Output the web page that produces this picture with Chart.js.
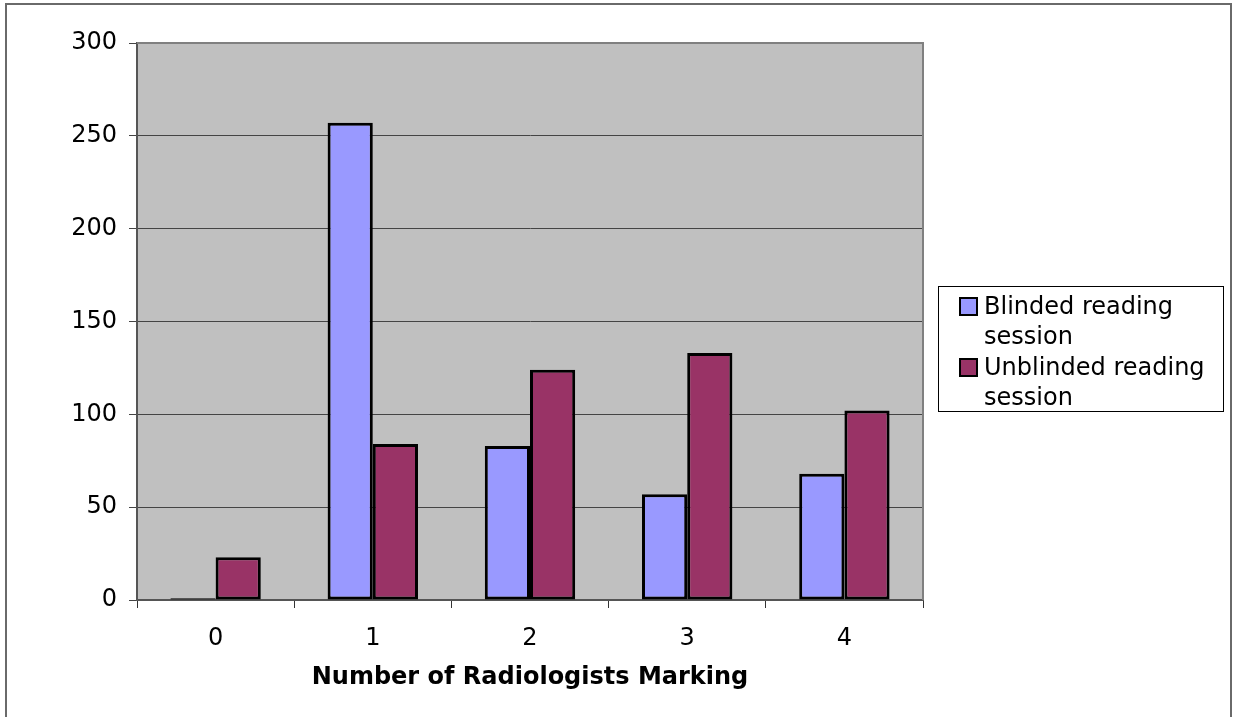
<!DOCTYPE html>
<html>
<head>
<meta charset="utf-8">
<script src="https://cdn.jsdelivr.net/npm/chart.js@4.4.1/dist/chart.umd.min.js"></script>
<style>
  html, body { margin: 0; padding: 0; background: #fff; }
  #wrap { position: relative; width: 1241px; height: 717px; overflow: hidden; }
  #frame { position: absolute; left: 5px; top: 3px; width: 1227px; height: 730px;
           border: 2px solid #6a6a6a; box-sizing: border-box; pointer-events: none; }
  #legend { position: absolute; left: 938px; top: 286px; width: 286px; height: 126px;
            border: 1px solid #000; box-sizing: border-box; background: #fff;
            font-family: "DejaVu Sans", Verdana, sans-serif; font-size: 24px; color: #000; }
  .item { position: absolute; left: 20px; width: 262px; line-height: 30px; padding-left: 25px; }
  .sw { position: absolute; left: 0; top: 6px; width: 19px; height: 19px; border: 2px solid #000; box-sizing: border-box; }
</style>
</head>
<body>
<div id="wrap">
  <canvas id="myChart" width="1241" height="717"></canvas>
  <div id="frame"></div>
  <div id="legend"></div>
</div>
<script>
const labels = ['0', '1', '2', '3', '4']
const blinded = [1, 257, 83, 57, 68]
const unblinded = [23, 84, 124, 133, 102]
const seriesNames = [['Blinded reading', 'session'], ['Unblinded reading', 'session']]
const colors = ['#9999FF', '#993366']
const yTicks = [0, 50, 100, 150, 200, 250, 300]

const plotBg = {
  id: 'plotBg',
  beforeDraw(chart) {
    const a = chart.chartArea, c = chart.ctx
    c.save()
    c.fillStyle = '#C0C0C0'
    c.fillRect(a.left, a.top, a.right - a.left, a.bottom - a.top)
    c.restore()
  },
  afterDatasetsDraw(chart) {
    const a = chart.chartArea, c = chart.ctx
    c.save()
    c.strokeStyle = '#808080'
    c.lineWidth = 2
    c.beginPath()
    c.moveTo(a.left, a.top); c.lineTo(a.right, a.top); c.lineTo(a.right, a.bottom)
    c.stroke()
    c.restore()
  }
}

const config = {
  type: 'bar',
  data: {
    labels: labels,
    datasets: [{
      label: seriesNames[0].join(' '),
      data: blinded,
      backgroundColor: colors[0],
      borderColor: '#000',
      borderWidth: 3,
      borderSkipped: false
    }, {
      label: seriesNames[1].join(' '),
      data: unblinded,
      backgroundColor: colors[1],
      borderColor: '#000',
      borderWidth: 3,
      borderSkipped: false
    }]
  },
  options: {
    responsive: false,
    animation: false,
    layout: { padding: { left: 0, top: 43, right: 318, bottom: 0 } },
    datasets: { bar: { categoryPercentage: 0.575, barPercentage: 1.0 } },
    plugins: { legend: { display: false }, tooltip: { enabled: false } },
    scales: {
      x: {
        grid: { offset: true, drawOnChartArea: false, color: '#333', tickLength: 8, lineWidth: 1 },
        border: { color: '#555', width: 2 },
        ticks: { color: '#000', font: { family: 'DejaVu Sans', size: 24 }, padding: 16 },
        title: { display: true, text: 'Number of Radiologists Marking', color: '#000',
                 font: { family: 'DejaVu Sans', size: 24, weight: 'bold' }, padding: { top: 4, bottom: 25 } },
        afterFit(s) { s.height = 117 }
      },
      y: {
        min: 0, max: 300,
        afterBuildTicks(s) { s.ticks = yTicks.map(v => ({ value: v })) },
        grid: { color: '#444', tickColor: '#444', tickLength: 8, lineWidth: 1 },
        border: { color: '#555', width: 2 },
        ticks: { color: '#000', font: { family: 'DejaVu Sans', size: 24 }, padding: 12 },
        afterFit(s) { s.width = 137 }
      }
    }
  },
  plugins: [plotBg]
}

const myChart = new Chart(document.getElementById('myChart'), config)

const lg = document.getElementById('legend')
seriesNames.forEach(function(name, i) {
  const d = document.createElement('div')
  d.className = 'item'
  d.style.top = (4 + i * 61) + 'px'
  d.innerHTML = '<span class="sw" style="background:' + colors[i] + '"></span>' + name.join('<br>')
  lg.appendChild(d)
})
</script>
</body>
</html>
